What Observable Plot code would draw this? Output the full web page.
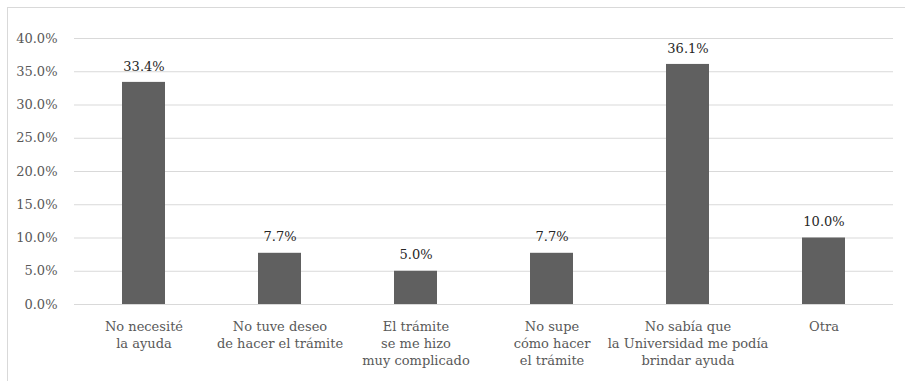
<!DOCTYPE html>
<html>
<head>
<meta charset="utf-8">
<script src="https://cdn.jsdelivr.net/npm/d3@7"></script>
<script src="https://cdn.jsdelivr.net/npm/@observablehq/plot@0.6"></script>
<style>
  html, body { margin: 0; padding: 0; background: #fff; }
  #wrap { position: relative; width: 905px; height: 381px; overflow: hidden; }
  #frame { position: absolute; left: 7px; top: 7px; width: 960px; height: 420px;
           border-left: 1px solid #d9d9d9; border-top: 1px solid #d9d9d9; }
  #chart { position: absolute; left: 0; top: 0; }
  #chart svg, #chart svg text, #chart svg tspan, #chart svg g {
    font-family: "DejaVu Serif", serif !important;
  }
</style>
</head>
<body>
<div id="wrap"><div id="frame"></div><div id="chart"></div></div>
<script>
const categories = [
  "No necesité\nla ayuda",
  "No tuve deseo\nde hacer el trámite",
  "El trámite\nse me hizo\nmuy complicado",
  "No supe\ncómo hacer\nel trámite",
  "No sabía que\nla Universidad me podía\nbrindar ayuda",
  "Otra"
];
const values = [0.334, 0.077, 0.050, 0.077, 0.361, 0.100];
const yTicks = [0, 0.05, 0.10, 0.15, 0.20, 0.25, 0.30, 0.35, 0.40];

const data = categories.map((c, i) => ({category: c, value: values[i]}));
const pct = d3.format(".1%");

const chart = Plot.plot({
  width: 905,
  height: 381,
  marginTop: 38,
  marginBottom: 77,
  marginLeft: 74,
  marginRight: 12,
  style: {fontSize: "13px", background: "transparent"},
  x: {domain: categories, paddingInner: 0.685, paddingOuter: 0.3425, label: null},
  y: {domain: [0, 0.4], label: null},
  marks: [
    Plot.gridY(yTicks, {stroke: "#d9d9d9", strokeOpacity: 1, strokeWidth: 1}),
    Plot.barY(data, {x: "category", y: "value", fill: "#606060"}),
    Plot.text(data, {x: "category", y: "value", text: d => pct(d.value), dy: -16,
      fill: "#262626", fontSize: 13}),
    Plot.axisY(yTicks, {tickFormat: pct, tickSize: 0, tickPadding: 17, fill: "#595959",
      fontSize: 13, label: null}),
    Plot.axisX({tickSize: 0, tickPadding: 14, fill: "#595959", fontSize: 13,
      lineHeight: 1.33, lineAnchor: "top", label: null})
  ]
});
document.getElementById("chart").appendChild(chart);
</script>
</body>
</html>
